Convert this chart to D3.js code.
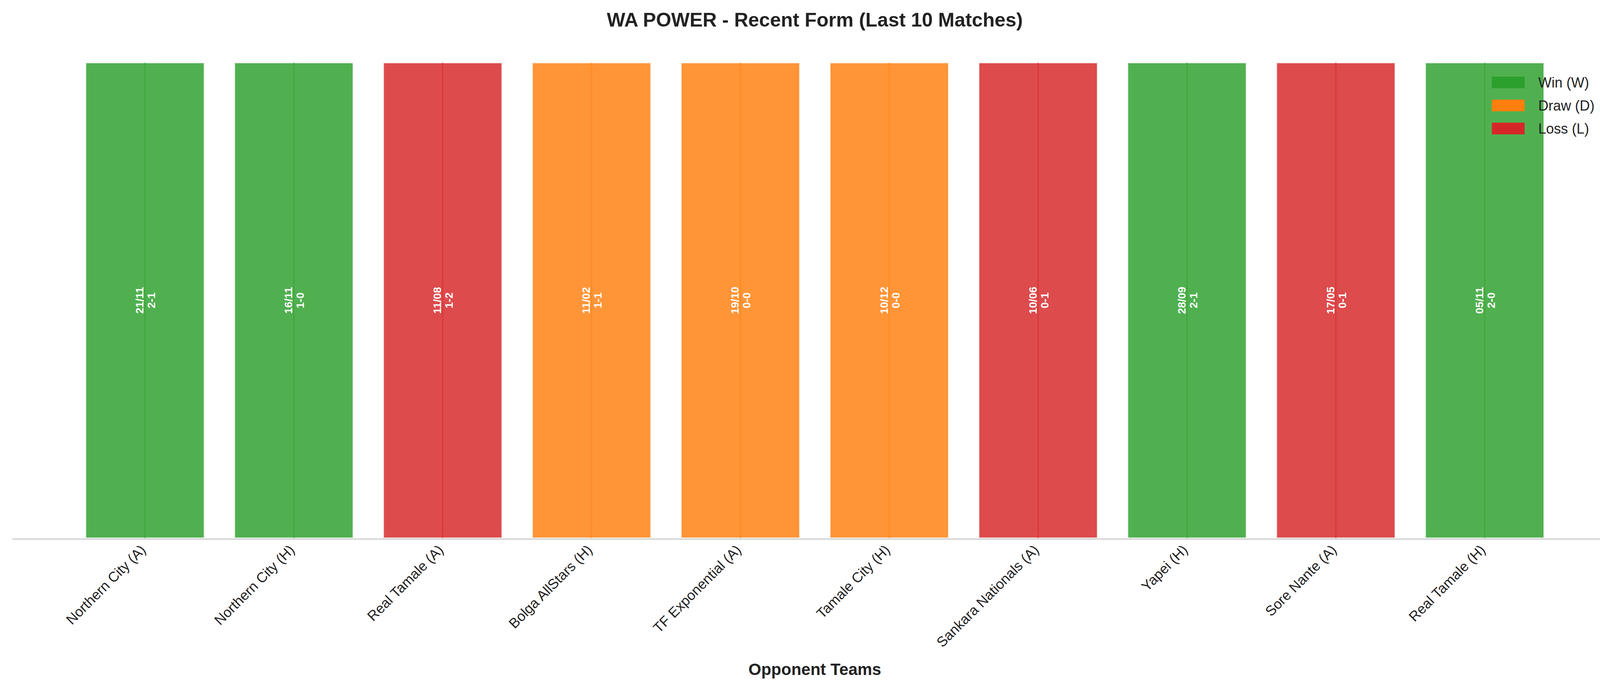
<!DOCTYPE html><html><head><meta charset="utf-8"><script src="https://d3js.org/d3.v7.min.js"></script>
<style>body{margin:0;background:#fff}</style></head><body><svg id="c" width="4170" height="1769"></svg><script>
const opponents=["Northern City (A)","Northern City (H)","Real Tamale (A)","Bolga AllStars (H)","TF Exponential (A)","Tamale City (H)","Sankara Nationals (A)","Yapei (H)","Sore Nante (A)","Real Tamale (H)"];
const results=["W","W","L","D","D","D","L","W","L","W"];
const dates=["21/11","16/11","11/08","11/02","19/10","10/12","10/06","28/09","17/05","05/11"];
const scores=["2-1","1-0","1-2","1-1","0-0","0-0","0-1","2-1","0-1","2-0"];
const values=[1,1,1,1,1,1,1,1,1,1];
const legendLabels=[["W","Win (W)"],["D","Draw (D)"],["L","Loss (L)"]];
const colors={W:"#2ca02c",D:"#ff7f0e",L:"#d62728"};
const svg=d3.select("#c"),font="Liberation Sans, Arial, sans-serif";
const x=d3.scaleLinear().domain([-0.89,9.89]).range([32,4140]);
const y=d3.scaleLinear().domain([0,1]).range([1378,160]);
const bw=x(0.8)-x(0);
const g=svg.append("g");
g.selectAll("rect.b").data(values).enter().append("rect")
 .attr("x",(d,i)=>x(i)-bw/2).attr("width",bw).attr("y",d=>y(d)).attr("height",d=>y(0)-y(d))
 .attr("fill",(d,i)=>colors[results[i]]).attr("fill-opacity",0.83)
 .attr("stroke","#fff").attr("stroke-opacity",0.85).attr("stroke-width",4);
g.selectAll("line.c").data(values).enter().append("line")
 .attr("x1",(d,i)=>x(i)).attr("x2",(d,i)=>x(i)).attr("y1",d=>y(d)).attr("y2",y(0))
 .attr("stroke",(d,i)=>colors[results[i]]).attr("stroke-opacity",0.5).attr("stroke-width",3);
values.forEach((d,i)=>{
 const t=g.append("text").attr("transform",`translate(${x(i)},${y(d/2)}) rotate(-90)`)
  .attr("text-anchor","middle").attr("fill","#fff").attr("font-family",font).attr("font-weight","bold").attr("font-size",28);
 t.append("tspan").attr("x",0).attr("dy",-4).text(dates[i]);
 t.append("tspan").attr("x",0).attr("dy",30).text(scores[i]);
});
svg.append("line").attr("x1",32).attr("x2",4140).attr("y1",y(0)+2).attr("y2",y(0)+2).attr("stroke","#cccccc").attr("stroke-width",3);
opponents.forEach((o,i)=>{
 svg.append("text").attr("transform",`translate(${x(i)+4},${y(0)+32}) rotate(-45)`).attr("text-anchor","end")
  .attr("font-family",font).attr("font-size",36).attr("fill","#222").text(o);
});
svg.append("text").attr("x",(32+4140)/2).attr("y",1728).attr("text-anchor","middle").attr("font-family",font).attr("font-weight","bold").attr("font-size",42).attr("fill","#222").text("Opponent Teams");
svg.append("text").attr("x",(32+4140)/2).attr("y",68).attr("text-anchor","middle").attr("font-family",font).attr("font-weight","bold").attr("font-size",50).attr("fill","#222").text("WA POWER - Recent Form (Last 10 Matches)");
legendLabels.forEach((l,i)=>{
 svg.append("rect").attr("x",3819).attr("y",196+i*59).attr("width",84).attr("height",30).attr("fill",colors[l[0]]);
 svg.append("text").attr("x",3938).attr("y",224+i*59).attr("font-family",font).attr("font-size",36).attr("fill","#222").text(l[1]);
});
</script></body></html>
